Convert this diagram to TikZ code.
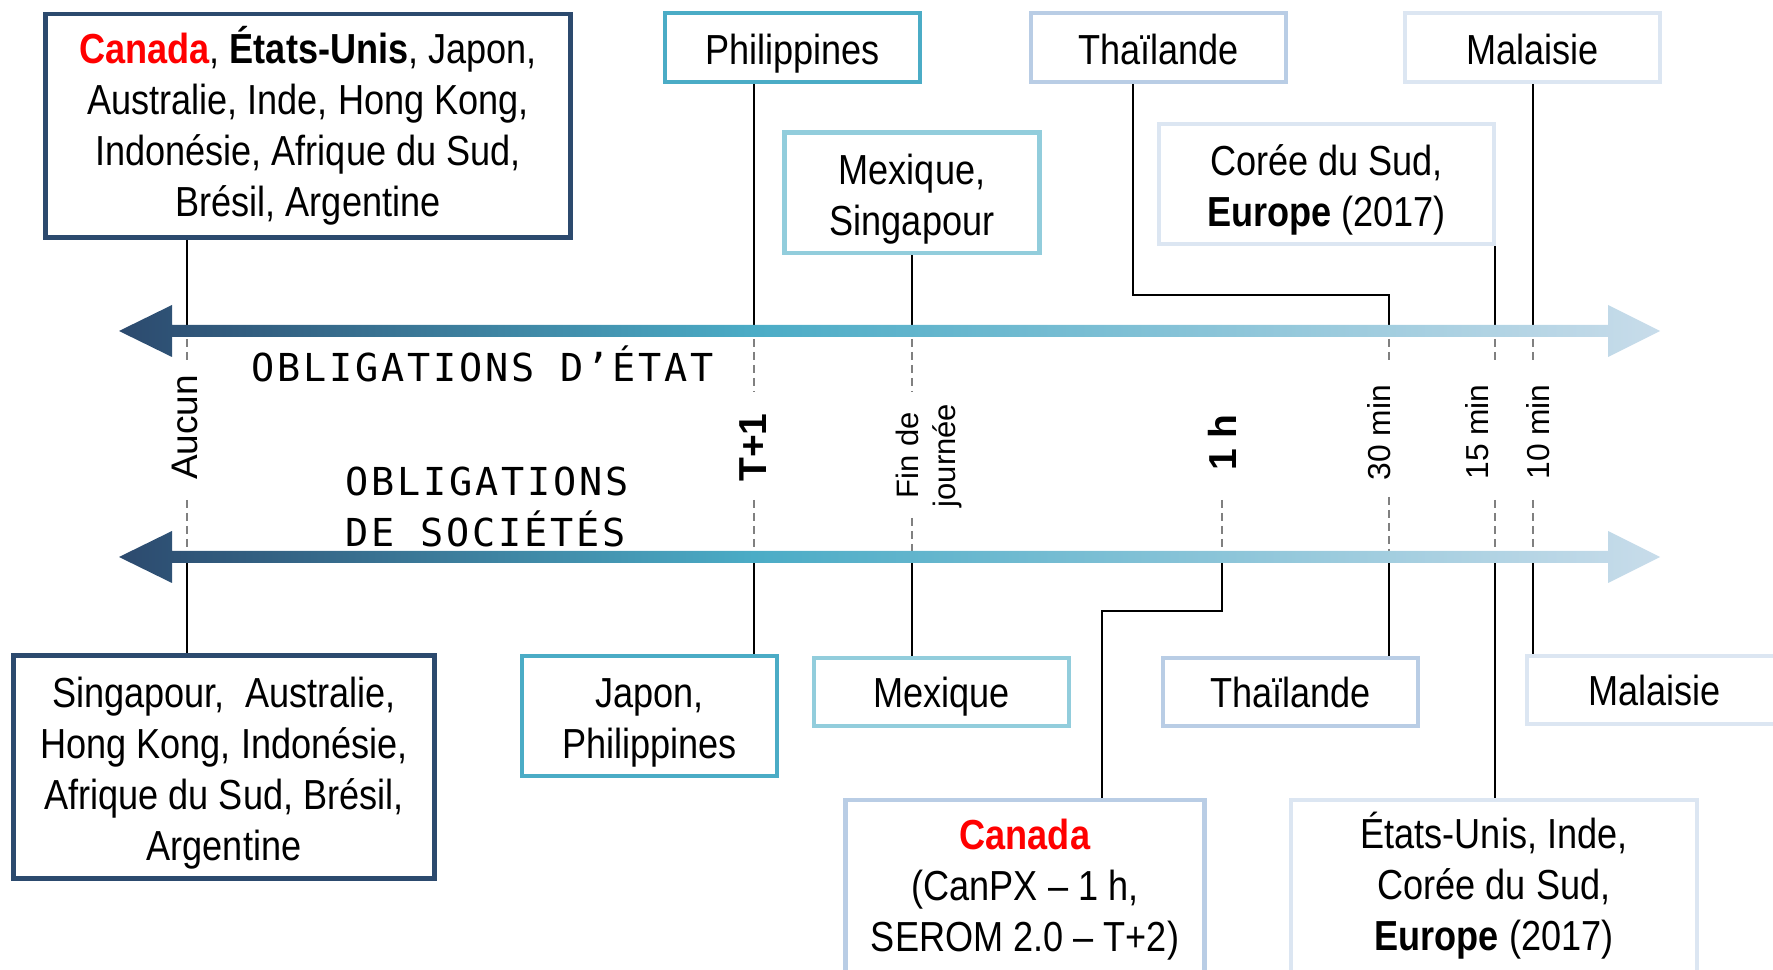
\documentclass[tikz,border=0pt]{standalone}
\usepackage{fontspec}
\setmainfont{Liberation Sans}
\newfontfamily\cond{Liberation Sans}[FakeStretch=0.86]
\newfontfamily\monof{DejaVu Sans Mono}[LetterSpace=7.3]
\definecolor{cNavy}{HTML}{2C4A6E}
\definecolor{cTeal}{HTML}{4BACC6}
\definecolor{cLTeal}{HTML}{92CDDC}
\definecolor{cLBlue}{HTML}{B9CDE5}
\definecolor{cVLight}{HTML}{DCE6F2}
\definecolor{cArrR}{HTML}{C8DCEA}
\definecolor{cRed}{HTML}{FF0000}
\pgfdeclarehorizontalshading{arrgrad}{100bp}{color(0bp)=(cNavy); color(25bp)=(cNavy); color(45.6bp)=(cTeal); color(75bp)=(cArrR); color(100bp)=(cArrR)}
\newcommand\upst{\rule{0pt}{16.8pt}}
\begin{document}
\begin{tikzpicture}[x=0.4pt,y=-0.4pt,
  bx/.style={draw, line width=1.8pt, fill=white, align=center, inner sep=0pt, font=\cond\fontsize{16.8}{20.4}\selectfont},
  one/.style={text height=12.2pt, text depth=0pt},
  onetop/.style={text height=14pt, text depth=0pt},
  conn/.style={line width=0.6pt, draw=black},
  dsh/.style={line width=0.6pt, draw=black!50, dash pattern=on 3.2pt off 2pt},
  rot/.style={rotate=90, inner sep=0pt, align=center},
  mono/.style={inner sep=0pt, font=\monof\fontsize{15.4}{20.4}\selectfont, align=left}
]
\useasboundingbox (0,0) rectangle (1773,970);
\clip (0,0) rectangle (1773,970);

% ---- top boxes (obligations d'Etat)
\node[bx, draw=cNavy, minimum width=210pt, minimum height=89.4pt] (gTL) at (308,126)
  {\textcolor{cRed}{\textbf{Canada}}, \textbf{États-Unis}, Japon,\\Australie, Inde, Hong Kong,\\Indonésie, Afrique du Sud,\\Brésil, Argentine};
\node[bx, onetop, draw=cTeal, minimum width=102pt, minimum height=27.6pt] (gPhil) at (792.5,47.5) {Philippines};
\node[bx, onetop, draw=cLBlue, minimum width=102pt, minimum height=27.6pt] (gThai) at (1158.5,47.5) {Thaïlande};
\node[bx, onetop, draw=cVLight, minimum width=102pt, minimum height=27.6pt] (gMal) at (1532.5,47.5) {Malaisie};
\node[bx, draw=cLTeal, minimum width=102pt, minimum height=48.2pt] (gMex) at (912,193) {\upst Mexique,\\Singapour};
\node[bx, draw=cVLight, minimum width=134pt, minimum height=48pt] (gCor) at (1326.5,184) {\upst Corée du Sud,\\\textbf{Europe} (2017)};

% ---- bottom boxes (obligations de societes)
\node[bx, draw=cNavy, minimum width=168.4pt, minimum height=89pt] (cSing) at (224,767)
  {\upst Singapour,~~Australie,\\Hong Kong, Indonésie,\\Afrique du Sud, Brésil,\\Argentine};
\node[bx, draw=cTeal, minimum width=102pt, minimum height=48pt] (cJap) at (649.5,716) {\upst Japon,\\Philippines};
\node[bx, one, draw=cLTeal, minimum width=102pt, minimum height=27.2pt] (cMex) at (941.5,692) {Mexique};
\node[bx, one, draw=cLBlue, minimum width=102pt, minimum height=27.2pt] (cThai) at (1290.5,692) {Thaïlande};
\node[bx, one, draw=cVLight, minimum width=102pt, minimum height=27.2pt] (cMal) at (1654.5,690) {Malaisie};
\node[bx, draw=cLBlue, minimum width=143.6pt, minimum height=72pt] (cCan) at (1025,890)
  {\textcolor{cRed}{\textbf{Canada}}\\(CanPX – 1 h,\\SEROM 2.0 – T+2)};
\node[bx, draw=cVLight, minimum width=162.4pt, minimum height=68.8pt] (cUS) at (1494,886)
  {États-Unis, Inde,\\Corée du Sud,\\\textbf{Europe} (2017)};

% ---- axis labels
\node[rot, font=\fontsize{14.8}{18}\selectfont] (lA) at (185,427.5) {Aucun};
\node[rot, font=\bfseries\fontsize{15.6}{18}\selectfont] (lT) at (753,447.5) {T+1};
\node[rot, font=\fontsize{12.4}{14.8}\selectfont] (lF) at (929,455.5) {Fin de\\journée};
\node[rot, font=\bfseries\fontsize{15.6}{18}\selectfont] (lH) at (1222,442.5) {1 h};
\node[rot, font=\fontsize{12.7}{15}\selectfont] (l30) at (1379,432.5) {30 min};
\node[rot, font=\fontsize{12.7}{15}\selectfont] (l15) at (1477.5,432) {15 min};
\node[rot, font=\fontsize{12.7}{15}\selectfont] (l10) at (1538.5,432) {10 min};

\node[mono, anchor=base west] (oE) at (251,382) {OBLIGATIONS D’ÉTAT};
\node[mono, anchor=south west] (oS) at (345,548) {OBLIGATIONS\\DE SOCIÉTÉS};

% ---- coordinates on the arrows
\coordinate (tA) at (187,331);
\coordinate (tT) at (754,331);
\coordinate (tF) at (912,331);
\coordinate (t30) at (1389,331);
\coordinate (t15) at (1495,331);
\coordinate (t10) at (1533,331);
\coordinate (kThai) at (1133,295);
\coordinate (bA) at (187,557);
\coordinate (bT) at (754,557);
\coordinate (bF) at (912,557);
\coordinate (bH) at (1222,557);
\coordinate (b30) at (1389,557);
\coordinate (b15) at (1495,557);
\coordinate (b10) at (1533,557);
\coordinate (kCan) at (1102,611);

% ---- connectors
\draw[conn] (gTL.south -| tA) -- (tA);
\draw[conn] (gPhil.south -| tT) -- (tT);
\draw[conn] (gMex.south -| tF) -- (tF);
\draw[conn] (gThai.south -| kThai) -- (kThai) -- (kThai -| t30) -- (t30);
\draw[conn] (gCor.south -| t15) -- (t15);
\draw[conn] (gMal.south -| t10) -- (t10);
\draw[conn] (bA) -- (cSing.north -| bA);
\draw[conn] (bT) -- (cJap.north -| bT);
\draw[conn] (bF) -- (cMex.north -| bF);
\draw[conn] (bH) -- (bH |- kCan) -- (kCan) -- (cCan.north -| kCan);
\draw[conn] (b30) -- (cThai.north -| b30);
\draw[conn] (b15) -- (cUS.north -| b15);
\draw[conn] (b10) -- (cMal.north -| b10);

% ---- dashed guides
\foreach \x/\a/\b in {187/339/360, 754/339/392, 912/339/392, 1389/339/365, 1495/339/365, 1533/339/365,
                      187/500/551, 754/500/551, 912/518/551, 1222/500/551, 1389/497/551, 1495/500/551, 1533/500/551}
  \draw[dsh] (\x,\a) -- (\x,\b);

% ---- gradient arrows
\shade[shading=arrgrad] (119,331) -- (172,305) -- (172,325) -- (1608,325) -- (1608,305) -- (1660,331)
  -- (1608,357) -- (1608,337) -- (172,337) -- (172,357) -- cycle;
\shade[shading=arrgrad] (119,557) -- (172,531) -- (172,551) -- (1608,551) -- (1608,531) -- (1660,557)
  -- (1608,583) -- (1608,563) -- (172,563) -- (172,583) -- cycle;
\end{tikzpicture}
\end{document}
